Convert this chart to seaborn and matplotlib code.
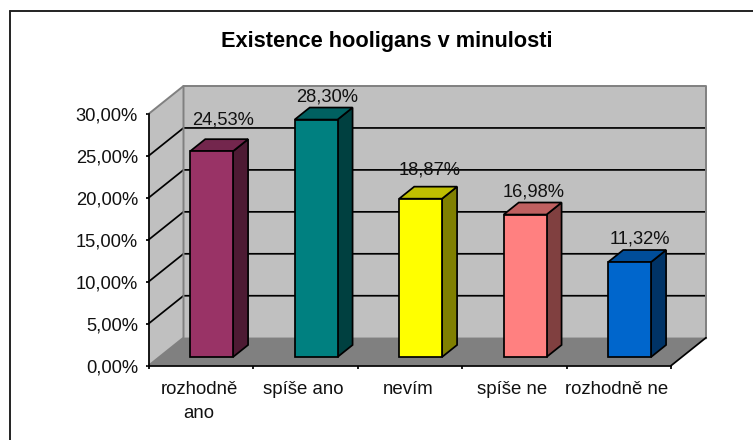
"""
Existence hooligans v minulosti - Excel style 3D column chart
"""
import matplotlib
matplotlib.use('Agg')
import matplotlib.pyplot as plt
from matplotlib.colors import to_rgb
from matplotlib.lines import Line2D
from matplotlib.patches import Polygon
import pandas as pd
import seaborn as sns

categories = ['rozhodně\nano', 'spíše ano', 'nevím', 'spíše ne', 'rozhodně ne']
values = [24.53, 28.30, 18.87, 16.98, 11.32]
value_labels = ['24,53%', '28,30%', '18,87%', '16,98%', '11,32%']
bar_colors = ['#993366', '#008080', '#FFFF00', '#FF8080', '#0066CC']
y_ticks = [0, 5, 10, 15, 20, 25, 30]
y_tick_labels = ['0,00%', '5,00%', '10,00%', '15,00%', '20,00%', '25,00%', '30,00%']

W, H = 753, 440
sns.set_style('white')
plt.rcParams['font.family'] = ['Liberation Sans', 'DejaVu Sans']

fig = plt.figure(figsize=(W / 100, H / 100), dpi=100, facecolor='white')

# front plane of the chart box, in pixels
left, right, top, bottom = 148.5, 671, 114, 365.7
ax = fig.add_axes([left / W, 1 - bottom / H, (right - left) / W, (bottom - top) / H])
ax.patch.set_visible(False)

# depth of the box in data units, 1 = back wall
depth_x = 35 / ((right - left) / 5)
depth_y = 28 / ((bottom - top) / 30)
bar_front = 0.31
bar_back = 0.74
bar_width = 0.41
wall_edge = '#808080'
font_size = 13.2
line_w = 1.25


def shifted(x, y, d):
    return (x + d * depth_x, y + d * depth_y)


def poly(points, color, z, edge='none'):
    ax.add_patch(Polygon(points, closed=True, facecolor=color, edgecolor=edge,
                         linewidth=line_w, clip_on=False, zorder=z))


def path(points, color, lw, z=1):
    xs, ys = zip(*points)
    ax.plot(xs, ys, color=color, lw=lw, clip_on=False, zorder=z)


# seaborn draws the front faces
df = pd.DataFrame({'category': categories, 'value': values})
sns.barplot(data=df, x='category', y='value', hue='category', palette=bar_colors,
            saturation=1, legend=False, width=bar_width, edgecolor='black',
            linewidth=line_w, zorder=4, ax=ax)
ax.set_xlim(-0.5, 4.5)
ax.set_ylim(0, 30)
ax.set_xlabel('')
ax.set_ylabel('')
bars = list(ax.patches)

# walls and floor
poly([shifted(-0.5, 0, 1), shifted(4.5, 0, 1), shifted(4.5, 30, 1), shifted(-0.5, 30, 1)], '#C0C0C0', 0.5)
poly([(-0.5, 0), shifted(-0.5, 0, 1), shifted(-0.5, 30, 1), (-0.5, 30)], '#C0C0C0', 0.5)
poly([(-0.5, 0), (4.5, 0), shifted(4.5, 0, 1), shifted(-0.5, 0, 1)], '#808080', 0.6)

# grid lines on both walls
for t in y_ticks[1:-1]:
    path([(-0.5, t), shifted(-0.5, t, 1), shifted(4.5, t, 1)], 'black', line_w)
path([(-0.5, 30), shifted(-0.5, 30, 1), shifted(4.5, 30, 1), shifted(4.5, 0, 1)], wall_edge, 1.4)
path([shifted(-0.5, 30, 1), shifted(-0.5, 0, 1), (-0.5, 0)], wall_edge, 1.4)
path([shifted(-0.5, 0, 1), shifted(4.5, 0, 1)], wall_edge, 1.0)
path([(4.5, 0), shifted(4.5, 0, 1)], 'black', line_w)

# push the seaborn bars back into the box, then add side and top faces
for bar, color in zip(bars, bar_colors):
    x0, x1 = bar.get_x(), bar.get_x() + bar.get_width()
    h = bar.get_height()
    rgb = to_rgb(color)
    bar.set_x(x0 + bar_front * depth_x)
    bar.set_y(bar_front * depth_y)
    bar.set_clip_on(False)
    br, tr, tl = shifted(x1, 0, bar_front), shifted(x1, h, bar_front), shifted(x0, h, bar_front)
    br2, tr2, tl2 = shifted(x1, 0, bar_back), shifted(x1, h, bar_back), shifted(x0, h, bar_back)
    poly([br, br2, tr2, tr], [c * 0.5 for c in rgb], 3, edge='black')
    poly([tl, tr, tr2, tl2], [c * 0.75 for c in rgb], 3, edge='black')

# value labels, offset from the back top corner of each bar in pixels
label_dx = [-3.5, -4.5, -6.5, -6.5, -4.5]
label_gaps = [19.5, 11, 16.5, 11, 11]
for i, (v, lab, dx, gap) in enumerate(zip(values, value_labels, label_dx, label_gaps)):
    x, y = shifted(i, v, bar_back)
    ax.annotate(lab, (x, y), xytext=(dx * 0.72, gap * 0.72), textcoords='offset points',
                ha='center', va='center', fontsize=font_size, color='#111111',
                annotation_clip=False, zorder=6)

ax.set_yticks(y_ticks)
ax.set_yticklabels(y_tick_labels)
ax.set_xticks([-0.5, 0.5, 1.5, 2.5, 3.5, 4.5])
ax.set_xticklabels([])
ax.tick_params(axis='both', which='major', length=2.5, width=line_w, color='black', direction='out',
               left=True, bottom=True, labelsize=font_size, labelcolor='#111111', pad=5)
for i, c in enumerate(categories):
    # first line of every label sits on the same height
    ax.annotate(c, (i, 0), xytext=(-1.2, -11), textcoords='offset points',
                ha='center', va='top', fontsize=font_size + 0.2, linespacing=1.55,
                color='#111111', annotation_clip=False)

sns.despine(ax=ax, top=True, right=True)
for side in ('left', 'bottom'):
    ax.spines[side].set_color('black')
    ax.spines[side].set_linewidth(line_w)
    ax.spines[side].set_zorder(2)

fig.text(387 / W, 1 - 41.5 / H, 'Existence hooligans v minulosti', ha='center', va='center',
         fontsize=15.7, fontweight='bold', color='black')

# chart area frame, only left and top are in the picture
for xs, ys in (([9.5, 9.5], [440, 11.5]), ([9.5, 753], [11.5, 11.5])):
    fig.add_artist(Line2D([x / W for x in xs], [1 - y / H for y in ys],
                          transform=fig.transFigure, color='#222222', lw=1.4))

fig.savefig('out.png', dpi=100)
